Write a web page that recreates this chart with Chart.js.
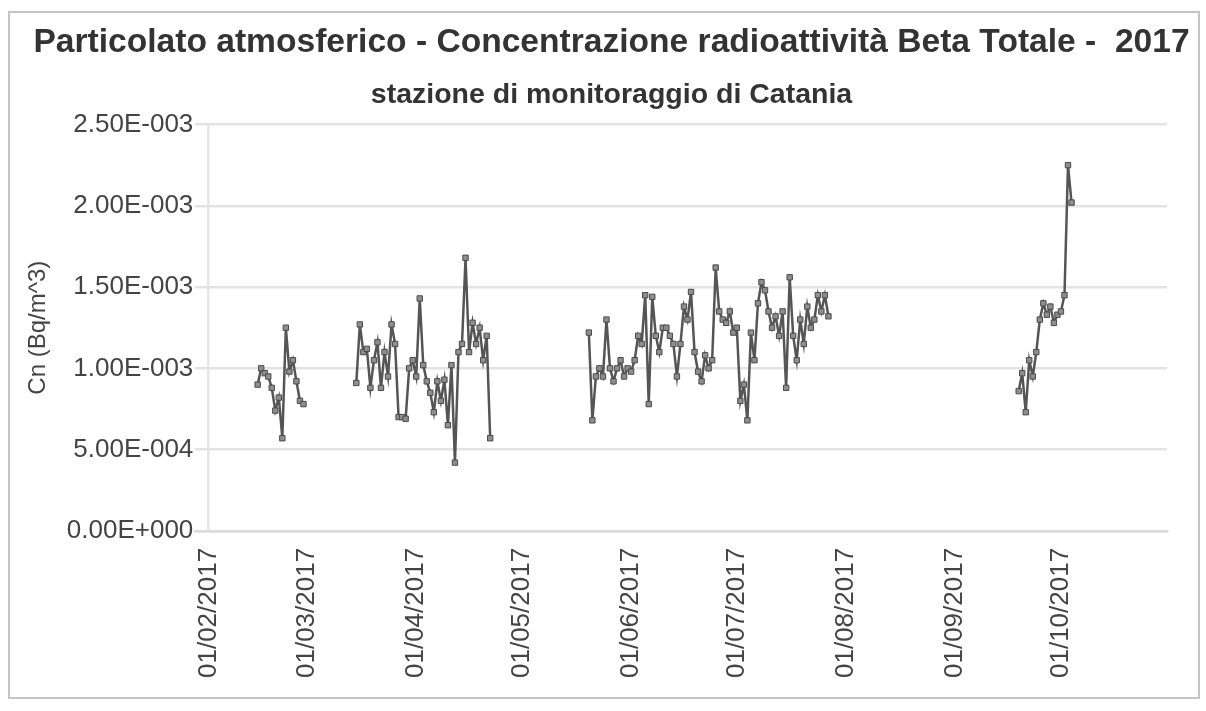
<!DOCTYPE html>
<html>
<head>
<meta charset="utf-8">
<script src="https://cdn.jsdelivr.net/npm/chart.js@4.4.1/dist/chart.umd.min.js"></script>
<style>
  html, body { margin: 0; padding: 0; background: #ffffff; }
  #wrap { width: 1206px; height: 711px; }
</style>
</head>
<body>
<div id="wrap"><canvas id="c" width="1206" height="711"></canvas></div>
<script>
// ---- data (day of year 2017, Jan 1 = 0) ----
const tickDays = [31, 59, 90, 120, 151, 181, 212, 243, 273];
const tickLabels = ['01/02/2017', '01/03/2017', '01/04/2017', '01/05/2017', '01/06/2017',
                    '01/07/2017', '01/08/2017', '01/09/2017', '01/10/2017'];
const yTickValues = [0, 0.0005, 0.001, 0.0015, 0.002, 0.0025];
const yTickLabels = ['0.00E+000', '5.00E-004', '1.00E-003', '1.50E-003', '2.00E-003', '2.50E-003'];

const days1 = [45, 46, 47, 48, 49, 50, 51, 52, 53, 54, 55, 56, 57, 58];
const vals1 = [0.00090, 0.00100, 0.00097, 0.00095, 0.00088, 0.00074, 0.00082, 0.00057, 0.00125,
               0.00098, 0.00105, 0.00092, 0.00080, 0.00078];

const days2 = [73, 74, 75, 76, 77, 78, 79, 80, 81, 82, 83, 84, 85, 86, 87, 88, 89, 90, 91, 92,
               93, 94, 95, 96, 97, 98, 99, 100, 101, 102, 103, 104, 105, 106, 107, 108, 109, 110, 111];
const vals2 = [0.00091, 0.00127, 0.00110, 0.00112, 0.00088, 0.00105, 0.00116, 0.00088, 0.00110, 0.00095,
               0.00127, 0.00115, 0.00070, 0.00070, 0.00069, 0.00100, 0.00105, 0.00095, 0.00143, 0.00102,
               0.00092, 0.00085, 0.00073, 0.00092, 0.00080, 0.00093, 0.00065, 0.00102, 0.00042, 0.00110,
               0.00115, 0.00168, 0.00110, 0.00128, 0.00115, 0.00125, 0.00105, 0.00120, 0.00057];

const days3 = [139, 140, 141, 142, 143, 144, 145, 146, 147, 148, 149, 150, 151, 152, 153, 154, 155,
               156, 157, 158, 159, 160, 161, 162, 163, 164, 165, 166, 167, 168, 169, 170, 171, 172,
               173, 174, 175, 176, 177, 178, 179, 180, 181, 182, 183, 184, 185, 186, 187, 188, 189,
               190, 191, 192, 193, 194, 195, 196, 197, 198, 199, 200, 201, 202, 203, 204, 205, 206, 207];
const vals3 = [0.00122, 0.00068, 0.00095, 0.00100, 0.00095, 0.00130, 0.00100, 0.00092, 0.00100, 0.00105,
               0.00095, 0.00100, 0.00098, 0.00105, 0.00120, 0.00115, 0.00145, 0.00078, 0.00144, 0.00120,
               0.00110, 0.00125, 0.00125, 0.00120, 0.00115, 0.00095, 0.00115, 0.00138, 0.00130, 0.00147,
               0.00110, 0.00098, 0.00092, 0.00108, 0.00100, 0.00105, 0.00162, 0.00135, 0.00130, 0.00128,
               0.00135, 0.00122, 0.00125, 0.00080, 0.00090, 0.00068, 0.00122, 0.00105, 0.00140, 0.00153,
               0.00148, 0.00135, 0.00125, 0.00132, 0.00120, 0.00135, 0.00088, 0.00156, 0.00120, 0.00105,
               0.00130, 0.00115, 0.00138, 0.00125, 0.00130, 0.00145, 0.00135, 0.00145, 0.00132];

const days4 = [261, 262, 263, 264, 265, 266, 267, 268, 269, 270, 271, 272, 273, 274, 275, 276];
const vals4 = [0.00086, 0.00097, 0.00073, 0.00105, 0.00095, 0.00110, 0.00130, 0.00140, 0.00133,
               0.00138, 0.00128, 0.00133, 0.00135, 0.00145, 0.00225, 0.00202];

const segments = [[days1, vals1], [days2, vals2], [days3, vals3], [days4, vals4]];

const FONT = "'Liberation Sans', Arial, sans-serif";

const frame = {
  id: 'frame',
  beforeDraw(chart) {
    const c = chart.ctx;
    c.save();
    c.fillStyle = '#ffffff';
    c.fillRect(0, 0, chart.width, chart.height);
    c.strokeStyle = '#c4c4c4';
    c.lineWidth = 2;
    c.strokeRect(9, 12, 1190, 686);
    c.restore();
  }
};

const datasets = segments.map(([d, v]) => ({
  data: d.map((x, i) => ({ x: x, y: v[i] })),
  yAxisID: 'y',
  borderColor: '#555555',
  borderWidth: 2.5,
  pointStyle: 'rect',
  pointRadius: 3.8,
  pointBackgroundColor: '#8e8e8e',
  pointBorderColor: '#4a4a4a',
  pointBorderWidth: 1,
  tension: 0,
  fill: false
}));

new Chart(document.getElementById('c'), {
  type: 'line',
  data: { datasets },
  plugins: [frame],
  options: {
    responsive: false,
    animation: false,
    layout: { padding: { left: 20, right: 3, top: 10, bottom: 16 } },
    plugins: {
      legend: { display: false },
      tooltip: { enabled: false },
      title: {
        display: true,
        text: 'Particolato atmosferico - Concentrazione radioattività Beta Totale -  2017',
        color: '#333333',
        font: { family: FONT, size: 33.6, weight: 'bold' },
        padding: { top: 13, bottom: 8 }
      },
      subtitle: {
        display: true,
        text: 'stazione di monitoraggio di Catania',
        color: '#333333',
        font: { family: FONT, size: 28.5, weight: 'bold' },
        padding: { top: 7, bottom: 12 }
      }
    },
    scales: {
      x: {
        type: 'linear',
        min: 27.3,
        max: 303.1,
        afterBuildTicks(scale) { scale.ticks = tickDays.map(v => ({ value: v })); },
        ticks: {
          autoSkip: false,
          minRotation: 90,
          maxRotation: 90,
          padding: 17,
          color: '#444444',
          font: { family: FONT, size: 26 },
          callback: (value, index) => tickLabels[index]
        },
        grid: {
          drawTicks: false,
          lineWidth: 2.5,
          color: (ctx) => ctx.index === 0 ? '#e6e6e6' : 'rgba(0,0,0,0)'
        },
        border: { display: true, color: '#dcdcdc', width: 2.5 }
      },
      y: {
        min: 0,
        max: 0.0025,
        afterBuildTicks(scale) { scale.ticks = yTickValues.map(v => ({ value: v })); },
        ticks: {
          padding: 2,
          color: '#444444',
          font: { family: FONT, size: 26 },
          callback: (value, index) => yTickLabels[index]
        },
        grid: { drawTicks: false, color: '#e3e3e3', lineWidth: 2.5 },
        border: { display: false },
        title: {
          display: true,
          text: 'Cn (Bq/m^3)',
          color: '#444444',
          font: { family: FONT, size: 24 },
          padding: { top: 4, bottom: 12 }
        }
      },
      spacer: {
        type: 'linear',
        position: 'right',
        display: true,
        afterFit(scale) { scale.width = 36; },
        ticks: { display: false },
        grid: { display: false, drawTicks: false },
        border: { display: false }
      }
    }
  }
});
</script>
</body>
</html>
